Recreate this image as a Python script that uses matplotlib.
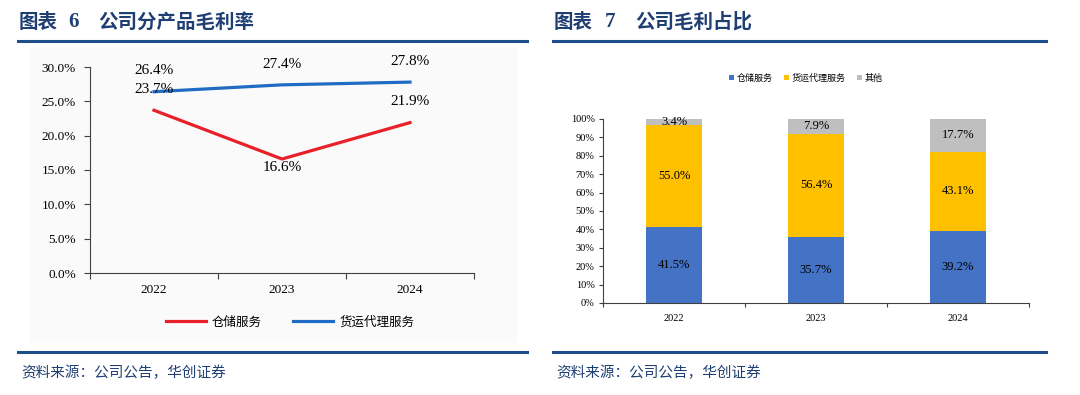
import numpy as np
import matplotlib
matplotlib.use("Agg")
import matplotlib.pyplot as plt
from matplotlib.patches import Rectangle

plt.rcParams['font.family'] = ['Liberation Serif', 'Noto Sans CJK SC', 'DejaVu Sans']

# 图表6 数据
years = ["2022", "2023", "2024"]
margin_storage = [23.7, 16.6, 21.9]   # 仓储服务
margin_freight = [26.4, 27.4, 27.8]   # 货运代理服务

# 图表7 数据
share_storage = [41.5, 35.7, 39.2]
share_freight = [55.0, 56.4, 43.1]
share_other = [3.4, 7.9, 17.7]

W, H = 1080, 395
NAVY = "#1f4e8c"
TITLE_C = "#1f3f73"
CJK = ['Noto Sans CJK SC', 'DejaVu Sans']


def px_axes(fig, x0, y0, x1, y1):
    # 像素坐标（左上原点）-> figure 坐标
    return fig.add_axes([x0 / W, 1 - y1 / H, (x1 - x0) / W, (y1 - y0) / H])


fig = plt.figure(figsize=(W / 100, H / 100), dpi=100)

# ---------- 标题 / 分隔线 / 来源 ----------
panels = [(18, 527, 68, 98, "6", "公司分产品毛利率"), (553, 1046, 605, 635, "7", "公司毛利占比")]
for x0, x1, xn, xt, num, title in panels:
    ty = 1 - 22 / H
    fig.text((x0 + 1) / W, ty, "图表", family=CJK, fontsize=14, fontweight="bold",
             color=TITLE_C, va="center", ha="left")
    fig.text(xn / W, ty, num, family=['Liberation Serif'], fontsize=15, fontweight="bold",
             color=TITLE_C, va="center", ha="left")
    fig.text(xt / W, ty, title, family=CJK, fontsize=14, fontweight="bold",
             color=TITLE_C, va="center", ha="left")
    fig.add_artist(plt.Line2D([x0 / W, x1 / W], [1 - 41 / H] * 2, color=NAVY, lw=2.2))
    fig.add_artist(plt.Line2D([x0 / W, x1 / W], [1 - 352 / H] * 2, color=NAVY, lw=2.2))
    fig.text((x0 + 3) / W, 1 - 373 / H, "资料来源：公司公告，华创证券", family=CJK, fontsize=10.5,
             color=TITLE_C, va="center", ha="left")

# 左图浅灰底
fig.add_artist(Rectangle((30 / W, 1 - 342 / H), (516 - 30) / W, (342 - 47) / H,
                         transform=fig.transFigure, color="#fafafa", zorder=0))

# ---------- 图表6：折线 ----------
ax = px_axes(fig, 90, 67, 474, 273)
ax.set_facecolor("none")
x = np.arange(len(years))
l1, = ax.plot(x, margin_storage, color="#e8202a", lw=2.3, label="仓储服务")
l2, = ax.plot(x, margin_freight, color="#1f6cc4", lw=2.3, label="货运代理服务")
ax.set_xlim(-0.5, 2.5)
ax.set_ylim(0, 30)
ax.set_yticks(np.arange(0, 31, 5))
ax.set_yticklabels([f"{v:.1f}%" for v in np.arange(0, 31, 5)], fontsize=9.5)
ax.set_xticks([-0.5, 0.5, 1.5, 2.5])
ax.set_xticklabels([])
ax.set_xticks(x, minor=True)
ax.set_xticklabels(years, minor=True, fontsize=9.5)
ax.tick_params(axis="x", which="minor", length=0, pad=8)
ax.tick_params(axis="x", which="major", length=4, direction="out", color="#404040")
ax.tick_params(axis="y", length=4, color="#404040", pad=6)
for s in ["top", "right"]:
    ax.spines[s].set_visible(False)
ax.spines["left"].set_color("#404040")
ax.spines["bottom"].set_color("#404040")
for i, v in enumerate(margin_freight):
    ax.annotate(f"{v:.1f}%", (i, v), xytext=(0, 15), textcoords="offset points",
                ha="center", va="center", fontsize=11)
for i, v in enumerate(margin_storage):
    dy = -6 if i == 1 else 15
    ax.annotate(f"{v:.1f}%", (i, v), xytext=(0, dy), textcoords="offset points",
                ha="center", va="center", fontsize=11)
leg = fig.legend(handles=[l1, l2], loc="center", bbox_to_anchor=(290 / W, 1 - 322 / H),
                 ncol=2, frameon=False, prop={"family": CJK, "size": 9},
                 handlelength=3.2, columnspacing=2.5, handletextpad=0.5)

# ---------- 图表7：堆积柱 ----------
bx = px_axes(fig, 603, 119, 1029, 303)
xb = np.arange(len(years))
bw = 0.4
b1 = bx.bar(xb, share_storage, bw, color="#4472c4", label="仓储服务")
b2 = bx.bar(xb, share_freight, bw, bottom=share_storage, color="#ffc000", label="货运代理服务")
bottom3 = np.array(share_storage) + np.array(share_freight)
b3 = bx.bar(xb, np.array(share_other), bw, bottom=bottom3, color="#bfbfbf", label="其他")
bx.set_xlim(-0.5, 2.5)
bx.set_ylim(0, 100)
bx.set_yticks(np.arange(0, 101, 10))
bx.set_yticklabels([f"{v}%" for v in range(0, 101, 10)], fontsize=7.5)
bx.set_xticks([-0.5, 0.5, 1.5, 2.5])
bx.set_xticklabels([])
bx.set_xticks(xb, minor=True)
bx.set_xticklabels(years, minor=True, fontsize=7.5)
bx.tick_params(axis="x", which="minor", length=0, pad=8)
bx.tick_params(axis="x", which="major", length=3, color="#404040")
bx.tick_params(axis="y", length=3, color="#404040", pad=3)
for s in ["top", "right"]:
    bx.spines[s].set_visible(False)
bx.spines["left"].set_color("#404040")
bx.spines["bottom"].set_color("#404040")
for i in range(len(years)):
    bx.text(i, share_storage[i] / 2, f"{share_storage[i]:.1f}%", ha="center", va="center", fontsize=9)
    bx.text(i, share_storage[i] + share_freight[i] / 2, f"{share_freight[i]:.1f}%",
            ha="center", va="center", fontsize=9)
    bx.text(i, bottom3[i] + share_other[i] / 2, f"{share_other[i]:.1f}%",
            ha="center", va="center", fontsize=9)
fig.legend(handles=[b1, b2, b3], loc="center", bbox_to_anchor=(806 / W, 1 - 78 / H),
           ncol=3, frameon=False, prop={"family": CJK, "size": 6.5},
           handlelength=0.6, handleheight=0.6, columnspacing=1.2, handletextpad=0.3)

fig.savefig("out.png", dpi=100)
